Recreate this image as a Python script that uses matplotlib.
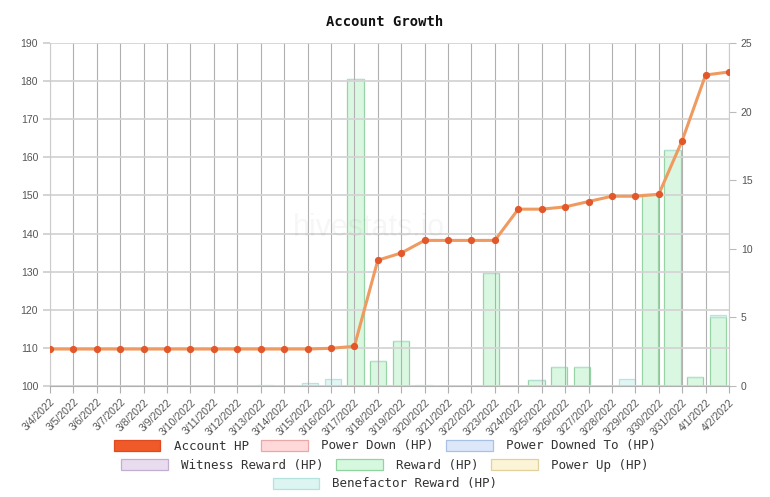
import numpy as np
import pandas as pd
import matplotlib
matplotlib.use('Agg')
import matplotlib.pyplot as plt
from matplotlib.patches import Patch

# 数据
dates = pd.date_range('2022-03-04', '2022-04-02', freq='D')
date_labels = [f'{d.month}/{d.day}/{d.year}' for d in dates]

account_hp = [109.7, 109.7, 109.7, 109.7, 109.7, 109.7, 109.7, 109.7, 109.7, 109.7,
              109.7, 109.7, 109.9, 110.4, 133.0, 134.9, 138.2, 138.2, 138.2, 138.2,
              146.4, 146.4, 147.0, 148.4, 149.8, 149.8, 150.3, 164.4, 181.6, 182.4]
reward = [0, 0, 0, 0, 0, 0, 0, 0, 0, 0,
          0, 0, 0, 22.4, 1.8, 3.3, 0, 0, 0, 8.2,
          0, 0.44, 1.36, 1.36, 0, 0, 14.0, 17.2, 0.68, 5.03]
benefactor = [0, 0, 0, 0, 0, 0, 0, 0, 0, 0.04,
              0, 0.22, 0.51, 0, 0, 0, 0.04, 0, 0, 0,
              0, 0, 0, 0, 0, 0.49, 0, 0, 0, 0.17]

legend_rows = [
    [('Account HP', '#f05a28', '#e04a20'),
     ('Power Down (HP)', '#ffd9d9', '#e8a8a8'),
     ('Power Downed To (HP)', '#dce8fa', '#a9c0e6')],
    [('Witness Reward (HP)', '#e8dcee', '#c2aed0'),
     ('Reward (HP)', '#d6f8de', '#90d4a0'),
     ('Power Up (HP)', '#fbf4d6', '#e0d09c')],
    [('Benefactor Reward (HP)', '#dcf5f2', '#b4e2dc')],
]

fig = plt.figure(figsize=(7.7, 4.97), dpi=100)
pos = [50 / 770, 1 - 386 / 497, (729 - 50) / 770, (386 - 43) / 497]

# 柱状图 (右轴)
ax_bar = fig.add_axes(pos, zorder=1)
x_bar = np.arange(len(dates))
ax_bar.bar(x_bar, reward, width=0.72, color='#d6f8de', edgecolor='#8fcf9e', linewidth=0.9, alpha=0.9)
ax_bar.bar(x_bar, benefactor, width=0.72, bottom=reward, color='#dcf5f2',
           edgecolor='#b4e2dc', linewidth=0.9, alpha=0.9)
ax_bar.set_xlim(-0.5, len(dates) - 0.5)
ax_bar.set_ylim(0, 25)
ax_bar.set_yticks(range(0, 26, 5))
ax_bar.yaxis.tick_right()
ax_bar.set_xticks([])
for s in ['top', 'left', 'bottom']:
    ax_bar.spines[s].set_visible(False)
ax_bar.spines['right'].set_color('#cccccc')
ax_bar.tick_params(axis='y', colors='#666666', labelsize=7.5, length=5, width=0.8,
                   labelcolor='#555555')
ax_bar.tick_params(axis='y', color='#bbbbbb')
for lab in ax_bar.get_yticklabels():
    lab.set_family('Liberation Sans')

# 折线 (左轴)
ax = fig.add_axes(pos, zorder=2)
ax.patch.set_alpha(0)
x_line = np.arange(len(dates))
ax.plot(x_line, account_hp, color='#ef9a60', lw=2.2, zorder=3)
ax.plot(x_line, account_hp, 'o', color='#e2582a', ms=4.2, zorder=4)
ax.set_xlim(0, len(dates) - 1)
ax.set_ylim(100, 190)
ax.set_yticks(range(100, 191, 10))
ax.set_xticks(x_line)
ax.set_xticklabels(date_labels, rotation=45, ha='right', rotation_mode='anchor',
                   family='Liberation Sans', fontsize=7.5, color='#555555')
for lab in ax.get_yticklabels():
    lab.set_family('Liberation Sans')
ax.tick_params(axis='y', labelsize=7.5, labelcolor='#555555', color='#cccccc', length=5, width=1.2)
ax.tick_params(axis='x', color='#b0b0b0', length=5, width=0.8, pad=3)
ax.grid(axis='x', color='#b0b0b0', lw=0.8)
ax.grid(axis='y', color='#d4d4d4', lw=1.3)
ax.spines['top'].set_visible(False)
ax.spines['right'].set_visible(False)
ax.spines['left'].set_color('#cccccc')
ax.spines['bottom'].set_color('#b0b0b0')

ax.text(0.47, 0.46, 'hivestats.io', transform=ax.transAxes, ha='center', va='center',
        fontsize=22, color='#000000', alpha=0.035, family='Liberation Sans')

fig.text(0.5, 1 - 22 / 497, 'Account Growth', ha='center', va='center',
         family='DejaVu Sans Mono', fontweight='bold', fontsize=10, color='#111111')

# 图例
row_y = [446, 465, 484]
for row, y in zip(legend_rows, row_y):
    handles = [Patch(facecolor=fc, edgecolor=ec, linewidth=0.9) for _, fc, ec in row]
    labels = [t for t, _, _ in row]
    fig.legend(handles, labels, loc='center', bbox_to_anchor=(0.5, 1 - y / 497),
               ncol=len(row), frameon=False, handlelength=3.7, handleheight=1.0,
               handletextpad=1.1, columnspacing=1.0, borderpad=0, borderaxespad=0,
               prop={'family': 'DejaVu Sans Mono', 'size': 9}, labelcolor='#333333')

fig.savefig('out.png', dpi=100)
